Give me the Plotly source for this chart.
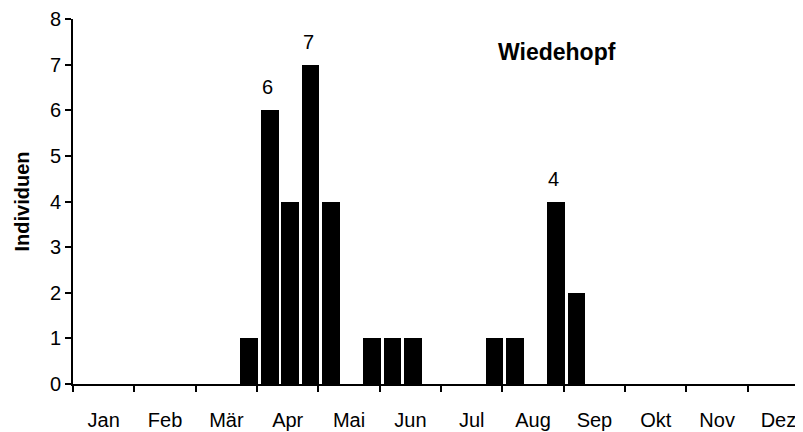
import plotly.graph_objects as go

# Monate (Beschriftung) und Dekaden-Zählungen (je 3 pro Monat)
MONATE = ["Jan", "Feb", "Mär", "Apr", "Mai", "Jun",
          "Jul", "Aug", "Sep", "Okt", "Nov", "Dez"]
INDIVIDUEN = [
    0, 0, 0,   # Jan
    0, 0, 0,   # Feb
    0, 0, 1,   # Mär
    6, 4, 7,   # Apr
    4, 0, 1,   # Mai
    1, 1, 0,   # Jun
    0, 0, 1,   # Jul
    1, 0, 4,   # Aug
    2, 0, 0,   # Sep
    0, 0, 0,   # Okt
    0, 0, 0,   # Nov
    0, 0, 0,   # Dez
]
BESCHRIFTUNG = {9: "6", 11: "7", 23: "4"}
ART = "Wiedehopf"

FONT = "Arial, Liberation Sans, sans-serif"
# the page body has an 8px margin, so the figure is a bit smaller than the window
W, H = 795, 424

dekaden = [i + 0.5 for i in range(len(INDIVIDUEN))]
grenzen = [3 * m for m in range(len(MONATE) + 1)]
mitten = [3 * m + 1.5 for m in range(len(MONATE))]

fig = go.Figure()
fig.add_trace(go.Bar(
    x=dekaden, y=INDIVIDUEN,
    width=0.86, offset=-0.31,
    marker=dict(color="black", line=dict(width=0)),
    showlegend=False,
))

for i, txt in BESCHRIFTUNG.items():
    fig.add_annotation(
        x=dekaden[i], y=INDIVIDUEN[i], text=txt, showarrow=False,
        yanchor="bottom", yshift=10,
        font=dict(family=FONT, size=20, color="black"),
    )

fig.add_annotation(
    x=0.663, y=0.91, xref="paper", yref="paper", text=f"<b>{ART}</b>",
    xanchor="center", yanchor="middle", showarrow=False,
    font=dict(family=FONT, size=23, color="black"),
)

fig.update_layout(
    width=W, height=H,
    margin=dict(l=65, r=0, t=9, b=48),
    plot_bgcolor="white", paper_bgcolor="white",
    bargap=0,
    font=dict(family=FONT, size=20, color="black"),
    xaxis=dict(
        range=[0, 35.7], showgrid=False, zeroline=False,
        showline=True, linecolor="black", linewidth=2,
        tickmode="array", tickvals=mitten, ticktext=MONATE, ticks="",
        ticklabelstandoff=17, ticklabeloverflow="allow",
        minor=dict(tickmode="array", tickvals=grenzen, ticks="outside",
                   ticklen=6, tickwidth=2, tickcolor="black"),
        tickfont=dict(size=20),
    ),
    yaxis=dict(
        range=[0, 8], showgrid=False, zeroline=False,
        showline=True, linecolor="black", linewidth=2,
        tickmode="array", tickvals=list(range(9)),
        ticks="outside", ticklen=6, tickwidth=2, tickcolor="black",
        ticklabeloverflow="allow",
        tickfont=dict(size=20),
        title=dict(text="<b>Individuen</b>", font=dict(size=20), standoff=15),
    ),
)

fig.write_html("out.html")
